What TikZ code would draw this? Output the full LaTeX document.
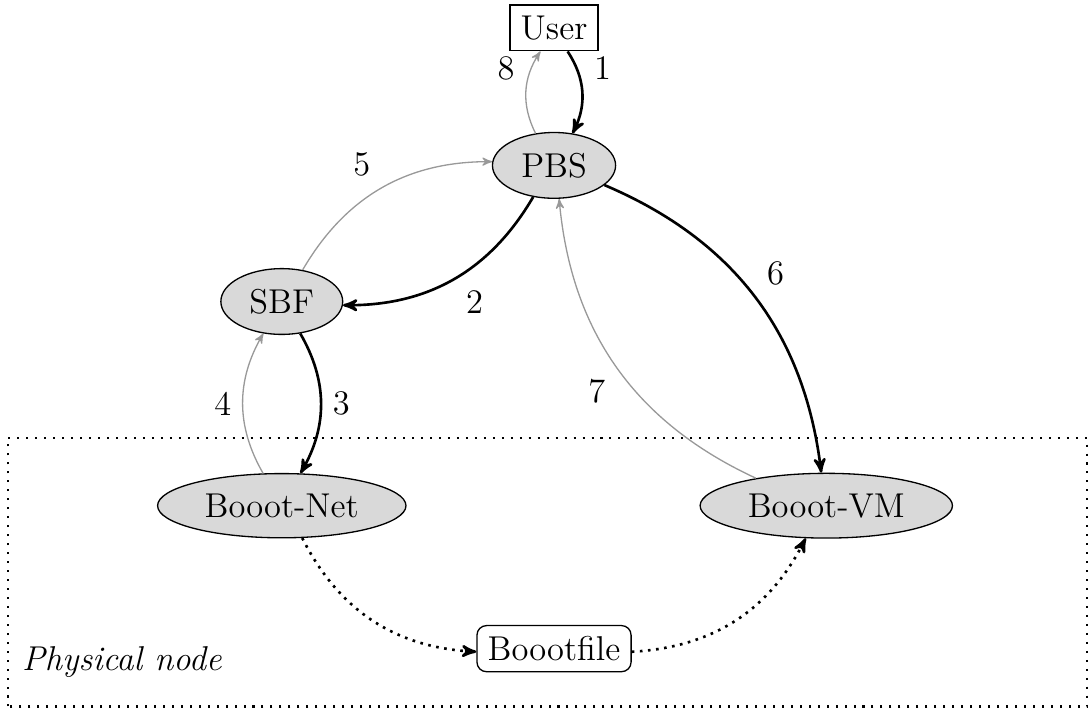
\documentclass[tikz,border=0pt]{standalone}
\usepackage{tikz}
\usetikzlibrary{shapes,arrows,positioning}

\begin{document}
\begin{tikzpicture}[font=\Large,>=stealth',
  every node/.style={inner sep=4.5pt},
  proc/.style={ellipse,draw,line width=0.55pt,fill=black!15},
  go/.style={->,line width=1.1pt,bend left,auto},
  back/.style={->,draw=black!40,line width=0.55pt,bend left,auto},
  boot/.style={->,line width=1.1pt,dash pattern=on 1.1pt off 2.3pt,bend right}]
\useasboundingbox (-0.14,-0.02) rectangle (15.86,10.43);
\draw[line width=0.85pt,dash pattern=on 0.85pt off 2.9pt] (-0.02,0.05) rectangle (15.83,4);
\node[anchor=base west,font=\Large\itshape] (phys) at (0.02,0.58) {Physical node};

\node[draw,line width=0.55pt] (user) at (8,10.02) {User};
\node[proc] (pbs) at (8,8) {PBS};
\node[proc] (sbf) at (4,6) {SBF};
\node[proc] (net) at (4,3) {Booot-Net};
\node[proc] (vm) at (12,3) {Booot-VM};
\node[draw,line width=0.55pt,rounded corners] (file) at (8,0.9) {Boootfile};

\path (user) edge[go] node {1} (pbs);
\path (pbs) edge[go] node {2} (sbf);
\path (sbf) edge[go] node {3} (net);
\path (net) edge[back] node {4} (sbf);
\path (sbf) edge[back] node {5} (pbs);
\path (pbs) edge[go] node {6} (vm);
\path (vm) edge[back] node {7} (pbs);
\path (pbs) edge[back] node {8} (user);

\draw[boot] (net) to (file);
\draw[boot] (file) to (vm);
\end{tikzpicture}
\end{document}
